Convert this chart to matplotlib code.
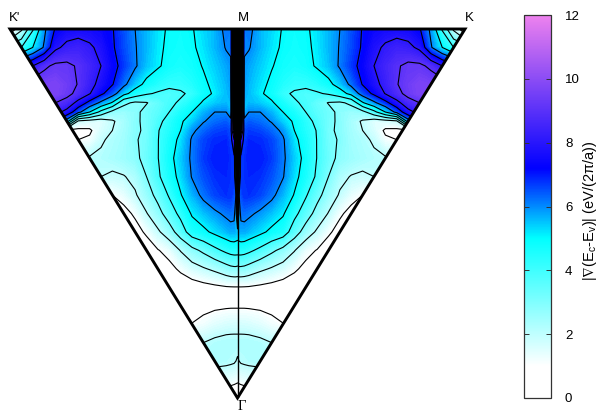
import numpy as np
import matplotlib
matplotlib.use("Agg")
import matplotlib.pyplot as plt
from matplotlib.cm import ScalarMappable
from matplotlib.colors import LinearSegmentedColormap, Normalize
from matplotlib.patches import Polygon

plt.rcParams['font.family'] = ['Liberation Sans', 'DejaVu Sans']
plt.rcParams['mathtext.default'] = 'regular'

# k position along the KK' line, 0 at M-Gamma, 1 at K'
kx = [0, .007, .015, .03, .05, .10, .15, .20, .25, .30, .35, .40, .45, .50,
      .55, .60, .65, .70, .75, .80, .85, .90, .95, 1.0]
# k position from Gamma (0) to M (1)
ky = [1, .95, .90, .85, .825, .80, .775, .75, .725, .70, .65, .60, .55,
      .50, .45, .40, .35, .30, .25, .20, .15, .10, .05, 0]

grad = [
    [0, 6, 11.5, 6.1, 6.2, 5.6, 5.3, 4.95, 4.8, 4.9, 5.2, 5.6, 6.0, 6.5, 7.05, 7.4, 7.55, 7.6, 7.5, 7.1, 5.8, 3.9, 1.8, 0.2],
    [0, 6, 11.5, 6.1, 6.05, 5.6, 5.2, 4.9, 4.75, 4.85, 5.15, 5.6, 6.05, 6.55, 7.1, 7.75, 8.15, 8.4, 8.25, 7.8, 6.1, 5.0, 4.0, 3.5],
    [0, 6, 11.5, 5.9, 5.75, 5.4, 5.05, 4.75, 4.6, 4.75, 5.1, 5.5, 6.1, 6.7, 7.3, 8.0, 8.5, 8.9, 9.2, 9.2, 8.8, 8.0, 7.5],
    [0, 6, 11.5, 5.8, 5.6, 5.2, 4.85, 4.45, 4.2, 4.2, 4.4, 4.75, 5.4, 6.2, 7.05, 7.7, 8.3, 8.95, 9.4, 9.7, 9.6, 9.5],
    [0, 6, 11.5, 5.7, 5.55, 5.1, 4.75, 4.15, 3.9, 3.75, 3.9, 4.1, 4.55, 5.3, 6.4, 7.2, 8.05, 8.7, 9.3, 9.7, 9.6],
    [0, 6, 11.5, 5.6, 5.6, 5.4, 5.1, 4.6, 4.1, 3.85, 3.4, 2.95, 2.85, 3.2, 4.9, 5.8, 6.7, 7.7, 8.6, 9.0, 9.2],
    [0, 6, 11.5, 5.6, 6.0, 6.0, 5.6, 5.0, 4.55, 4.0, 3.55, 3.25, 2.8, 2.55, 2.7, 3.7, 5.0, 6.3, 7.7, 8.3],
    [0, 6, 11, 6.2, 6.4, 6.25, 5.95, 5.35, 4.9, 4.35, 3.75, 3.2, 2.85, 2.35, 1.9, 1.5, 1.6, 1.8, 5.5, 7.0],
    [0, 5, 10, 6.5, 6.7, 6.6, 6.3, 5.85, 5.0, 4.45, 3.95, 3.15, 2.85, 2.4, 2.0, 1.6, 0.85, 0.8, 0.8],
    [0, 4, 8, 6.6, 6.9, 6.85, 6.6, 6.1, 5.2, 4.6, 3.97, 3.2, 2.93, 2.45, 2.25, 1.85, 1.15, 1.0, 1.0],
    [0, 3, 6.8, 6.8, 7.0, 7.0, 6.7, 6.15, 5.4, 4.75, 3.97, 3.3, 2.8, 2.55, 2.35, 2.2, 2.1, 2.1],
    [0, 4, 6.8, 6.8, 6.9, 6.8, 6.5, 6.05, 5.25, 4.6, 3.85, 3.0, 2.25, 1.95, 1.85, 2.0],
    [0, 6, 6.5, 6.8, 6.8, 6.6, 6.2, 5.6, 4.95, 4.1, 3.3, 2.55, 1.9, 1.35, 1.0],
    [2.5, 5.5, 6.2, 6.25, 6.15, 5.85, 5.5, 5.1, 4.25, 3.5, 2.65, 1.95, 1.15, 0.7],
    [5.5, 5.6, 5.7, 5.7, 5.55, 5.2, 4.8, 4.5, 3.5, 2.55, 1.85, 1.15, 0.65, 0.6],
    [4.4, 4.4, 4.4, 4.35, 4.2, 3.75, 3.2, 2.7, 2.05, 1.3, 0.95, 0.5, 0.5],
    [2.75, 2.8, 2.8, 2.75, 2.6, 2.2, 1.9, 1.6, 1.15, 0.75, 0.4, 0.4],
    [.96, .96, .96, .95, .93, .82, .7, .55, .45, .35, .35],
    [.9, .9, .9, .9, .89, .85, .8, .7, .6, .6],
    [1.65, 1.65, 1.65, 1.64, 1.6, 1.45, 1.2, 1.02, 1.0],
    [2.3, 2.3, 2.3, 2.3, 2.3, 2.2, 2.0, 2.0],
    [1.9, 2.0, 2.1, 2.15, 2.2, 2.3, 2.3],
    [1.2, 1.25, 1.3, 1.35, 1.4, 1.4],
    [.1, .15, .2, .3, .3],
]

palette = [(0, 'white'), (1 / 12, 'white'), (5 / 12, 'cyan'),
           (7.2 / 12, 'blue'), (1, '#ee82ee')]
cbar_ticks = [0, 2, 4, 6, 8, 10, 12]

# pad rows past the edge and mirror the half onto the K side
half = np.array([r + [r[-1]] * (len(kx) - len(r)) for r in grad])
Z = np.hstack([half[:, :0:-1], half])
X = np.concatenate([-np.array(kx)[:0:-1], kx])
Y = np.array(ky)

cmap = LinearSegmentedColormap.from_list('gap', palette, N=512)
norm = Normalize(0, 12)

fig = plt.figure(figsize=(5.98, 4.13), dpi=100)
W, H = 598, 413
ax = fig.add_axes([10 / W, (H - 398) / H, 455 / W, 369 / H])
ax.set_xlim(-1, 1)
ax.set_ylim(0, 1)
ax.axis('off')

corners = [(-1, 1), (1, 1), (0, 0)]
clip = Polygon(corners, closed=True, transform=ax.transData, fill=False, edgecolor='none')
ax.add_patch(clip)

cf = ax.contourf(X, Y, Z, levels=np.linspace(0, 12, 121), cmap=cmap, norm=norm)
cf.set_clip_path(clip)
cs = ax.contour(X, Y, Z, levels=np.arange(1, 12), colors='black', linewidths=0.8)
cs.set_clip_path(clip)

ax.plot([0, 0], [0, 1], color='black', lw=1.0)
ax.add_patch(Polygon(corners, closed=True, fill=False, edgecolor='black', lw=2.1,
                     clip_on=False, joinstyle='miter'))

ax.text(-0.98, 1.014, "K'", ha='center', va='bottom', fontsize=9.5)
ax.text(0.025, 1.014, "M", ha='center', va='bottom', fontsize=9.5)
ax.text(1.02, 1.014, "K", ha='center', va='bottom', fontsize=9.5)
ax.text(0.02, -0.006, "Γ", ha='center', va='top', fontsize=10.5, family='Liberation Serif')

cax = fig.add_axes([524 / W, (H - 398) / H, 27 / W, 383 / H])
cb = fig.colorbar(ScalarMappable(norm=norm, cmap=cmap), cax=cax, ticks=cbar_ticks)
cax.tick_params(axis='y', which='both', left=True, right=True, direction='in',
                length=3.5, width=0.7, pad=10, labelsize=9.5, color='#333333')
cb.outline.set_linewidth(0.9)
cb.outline.set_edgecolor('#333333')
fig.text(590 / W, 1 - 211 / H, r'$|\nabla$(E$_c$-E$_v$)| (eV/(2$\pi$/a))', rotation=90,
         ha='center', va='center', fontsize=10.5)

fig.savefig('out.png', dpi=100)
